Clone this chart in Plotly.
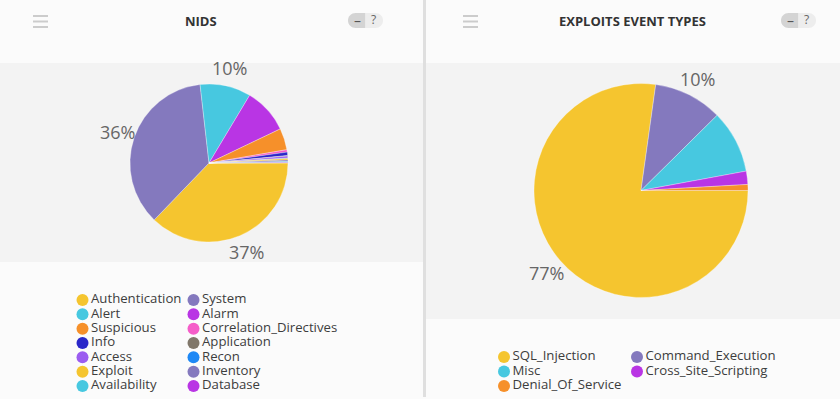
import math
import plotly.graph_objects as go

# ---------------- data ----------------
nids_labels = ["Authentication", "System", "Alert", "Alarm", "Suspicious",
               "Correlation_Directives", "Info", "Application", "Access", "Recon",
               "Exploit", "Inventory", "Availability", "Database"]
nids_values = [37.2, 36.0, 10.4, 9.3, 4.4, 0.5, 0.7, 0.1, 0.4, 0.1, 0.3, 0.3, 0.2, 0.1]

exp_labels = ["SQL_Injection", "Command_Execution", "Misc",
              "Cross_Site_Scripting", "Denial_Of_Service"]
exp_values = [77.2, 10.4, 9.5, 2.0, 0.9]

panel_titles = ["NIDS", "EXPLOITS EVENT TYPES"]

# ---------------- style ----------------
palette = ["#F5C52F", "#8479BE", "#47C8E0", "#B935E4", "#F6902A",
           "#F55DC9", "#2A27C9", "#80776A", "#9B5CF0", "#1E88F5"]
FONT = "Open Sans"
W, H = 840, 399


def colors_for(n):
    return [palette[i % len(palette)] for i in range(n)]


def px_x(x):
    return x / W


def px_y(y):
    return 1 - y / H


fig = go.Figure()

annotations = []

# pies (domains in pixels: x range, y range)
pie_specs = [
    (nids_labels, nids_values, (130, 288), (84, 242)),
    (exp_labels, exp_values, (534, 748), (83, 298)),
]
LABEL_GAP = 18
for labels, values, (xa, xb), (ya, yb) in pie_specs:
    fig.add_trace(go.Pie(
        labels=labels, values=values, sort=False, direction="clockwise",
        rotation=90, textinfo="none",
        marker=dict(colors=colors_for(len(values)),
                    line=dict(color="rgba(255,255,255,0.6)", width=0.5)),
        domain=dict(x=[px_x(xa), px_x(xb)], y=[px_y(yb), px_y(ya)]),
        showlegend=False, hoverinfo="skip",
    ))
    # percentage labels outside the larger slices, along each slice's mid-angle
    cx, cy = (xa + xb) / 2, (ya + yb) / 2
    r = min(xb - xa, yb - ya) / 2
    tot = sum(values)
    start = 90.0  # compass degrees (3 o'clock)
    for v in values:
        p = v / tot
        mid = math.radians(start + 180 * p)
        start += 360 * p
        if p * 100 >= 10:
            annotations.append(dict(
                x=cx + (r + LABEL_GAP) * math.sin(mid),
                y=cy - (r + LABEL_GAP) * math.cos(mid),
                xref="x", yref="y", text=f"{round(p * 100)}%", showarrow=False,
                font=dict(family=FONT, size=18, color="#666666")))

# custom two-column legends drawn on a pixel-scaled hidden axis
legend_specs = [
    (nids_labels, 82.5, 111, 300, 14.33),
    (exp_labels, 504, 133, 357, 14.5),
]
for labels, x0, cstep, y0, rstep in legend_specs:
    xs = [x0 + (i % 2) * cstep for i in range(len(labels))]
    ys = [y0 + (i // 2) * rstep for i in range(len(labels))]
    fig.add_trace(go.Scatter(
        x=xs, y=ys, mode="markers+text", text=labels,
        textposition="middle right",
        textfont=dict(family=FONT, size=13.2, color="#3d3d3d"),
        marker=dict(size=12, color=colors_for(len(labels))),
        showlegend=False, hoverinfo="skip", cliponaxis=False,
    ))

shapes = []
# chart bands
shapes.append(dict(type="rect", xref="x", yref="y", x0=0, x1=423, y0=63, y1=262,
                   fillcolor="#f3f3f3", line=dict(width=0), layer="below"))
shapes.append(dict(type="rect", xref="x", yref="y", x0=426, x1=840, y0=63, y1=319,
                   fillcolor="#f3f3f3", line=dict(width=0), layer="below"))
# divider
shapes.append(dict(type="line", xref="x", yref="y", x0=424.5, x1=424.5, y0=0, y1=397,
                   line=dict(color="#dfdfdf", width=3), layer="below"))

for hx, pill_x in [(33, 348), (463, 781)]:
    # hamburger icon
    for yy in (16, 21.5, 27):
        shapes.append(dict(type="line", xref="x", yref="y", x0=hx, x1=hx + 15,
                           y0=yy, y1=yy, line=dict(color="#cccccc", width=2)))
    # pill button
    rr = 7.5
    k = 0.5523 * rr
    top, bot, mid = 13, 28, 20.5
    half = 17.5
    xl, xm, xr = pill_x, pill_x + half, pill_x + 2 * half
    left = (f"M{xm},{top} H{xl + rr} C{xl + rr - k},{top} {xl},{mid - k} {xl},{mid} "
            f"C{xl},{mid + k} {xl + rr - k},{bot} {xl + rr},{bot} H{xm} Z")
    right = (f"M{xm},{top} H{xr - rr} C{xr - rr + k},{top} {xr},{mid - k} {xr},{mid} "
             f"C{xr},{mid + k} {xr - rr + k},{bot} {xr - rr},{bot} H{xm} Z")
    shapes.append(dict(type="path", xref="x", yref="y", path=left,
                       fillcolor="#d4d4d4", line=dict(width=0)))
    shapes.append(dict(type="path", xref="x", yref="y", path=right,
                       fillcolor="#ededed", line=dict(width=0)))
    annotations.append(dict(x=xl + half / 2 + 1, y=mid, xref="x", yref="y", text="–",
                            showarrow=False, font=dict(family=FONT, size=14, color="#555555")))
    annotations.append(dict(x=xm + half / 2 - 1, y=mid - 1, xref="x", yref="y", text="?",
                            showarrow=False, font=dict(family=FONT, size=12, color="#666666")))

for title, tx in zip(panel_titles, [201, 632.5]):
    annotations.append(dict(x=tx, y=21, xref="x", yref="y", text=f"<b>{title}</b>",
                            showarrow=False,
                            font=dict(family=FONT, size=13, color="#333333")))

fig.update_layout(
    width=W, height=H,
    margin=dict(l=0, r=0, t=0, b=0),
    paper_bgcolor="#fbfbfb", plot_bgcolor="rgba(0,0,0,0)",
    xaxis=dict(range=[0, W], visible=False, fixedrange=True),
    yaxis=dict(range=[H, 0], visible=False, fixedrange=True),
    shapes=shapes, annotations=annotations,
    showlegend=False, hovermode=False,
)

fig.write_html("out.html",
               config={"displayModeBar": False, "staticPlot": True},
               post_script="document.body.style.margin='0';"
                           "document.body.style.background='#fbfbfb';")
